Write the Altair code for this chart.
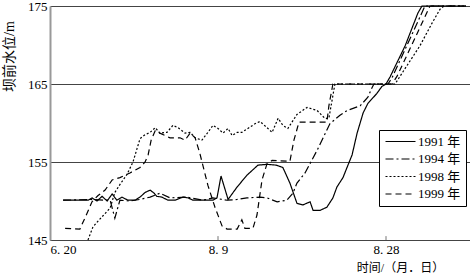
import altair as alt
import pandas as pd

FONT = "Liberation Serif, Noto Sans CJK SC"

# x: day index (6.20 = 0, 8.9 = 50, 8.28 = 100 on the printed axis)
x1991 = [3.9, 11.3, 12.5, 14.0, 15.5, 17.0, 18.5, 19.9, 21.4, 23.2, 25.3, 26.8, 28.3, 29.8, 31.0, 31.8,
         33.3, 35.1, 37.2, 39.6, 41.1, 42.6, 48.5, 49.7, 50.9, 53.0, 55.7, 58.6, 61.9, 64.6, 67.3, 69.3,
         71.4, 73.5, 75.3, 77.4, 78.3, 80.4, 82.4, 84.2, 85.4, 87.2, 88.4, 89.9, 91.4, 93.2, 94.6, 97.3,
         98.8, 100.0, 101.2, 105.7, 109.5, 110.7, 123.8]
y1991 = [150.1, 150.1, 150.4, 150.0, 150.6, 150.0, 150.9, 150.1, 150.5, 150.1, 150.1, 150.5, 151.1, 151.4, 151.0, 150.6,
         150.5, 150.1, 150.1, 150.5, 150.4, 150.1, 150.1, 150.4, 153.2, 150.2, 151.8, 153.3, 154.6, 154.7, 154.6, 154.3,
         152.3, 149.7, 149.5, 149.9, 148.8, 148.8, 149.2, 150.4, 151.8, 153.0, 154.3, 155.9, 158.7, 161.3, 162.5, 163.8,
         164.7, 165.0, 165.9, 169.9, 174.1, 175.0, 175.0]

x1994 = [3.9, 12.0, 16.4, 17.9, 19.3, 20.8, 23.8, 26.8, 29.8, 32.7, 35.7, 40.8, 45.5, 48.5, 52.7, 55.7, 58.6,
         62.5, 64.6, 67.6, 70.5, 72.3, 73.5, 75.9, 79.5, 83.3, 86.3, 88.4, 92.3, 94.6, 95.8, 96.4, 100.6,
         101.8, 111.6, 123.8]
y1994 = [150.1, 150.2, 150.1, 150.1, 147.8, 150.1, 150.0, 150.2, 150.5, 151.0, 150.4, 150.5, 150.1, 150.4, 150.1, 150.2, 150.4,
         150.5, 150.4, 149.9, 150.1, 151.0, 152.3, 153.6, 156.5, 159.9, 161.0, 161.6, 162.2, 163.3, 164.5, 165.0, 165.0,
         165.8, 175.0, 175.0]

x1998 = [11.3, 12.8, 14.9, 17.9, 19.3, 20.8, 22.9, 24.7, 26.8, 28.3, 29.8, 31.3, 32.7, 34.8, 36.6, 38.1, 40.2,
         41.7, 43.2, 45.2, 47.0, 48.5, 50.0, 51.5, 53.0, 54.2, 55.7, 57.1, 58.9, 61.0, 62.5, 64.6, 66.1, 67.9,
         69.3, 70.8, 73.5, 76.5, 79.5, 81.8, 83.0, 84.8, 102.7, 105.7, 110.1, 113.7, 116.1, 117.3, 123.8]
y1998 = [145.0, 146.7, 147.7, 149.1, 151.1, 152.1, 153.4, 155.0, 158.0, 158.5, 158.8, 159.4, 158.7, 158.8, 159.7, 159.4, 158.7,
         158.8, 158.1, 157.8, 158.8, 159.7, 159.3, 158.7, 159.3, 158.4, 158.8, 158.8, 159.3, 159.9, 160.2, 159.4, 158.8, 160.6,
         159.7, 159.3, 161.1, 162.0, 161.6, 160.6, 160.6, 165.0, 165.0, 167.0, 169.9, 172.8, 174.6, 175.0, 175.0]

x1999 = [4.5, 8.9, 11.0, 12.5, 14.3, 16.4, 18.5, 20.8, 23.8, 26.8, 28.3, 29.2, 30.1, 31.3, 32.7, 34.2, 35.7,
         38.7, 40.2, 41.7, 43.2, 44.6, 47.0, 49.1, 51.2, 52.7, 55.7, 57.1, 58.0, 60.4, 61.6, 63.1, 64.6, 66.1,
         71.4, 72.6, 74.1, 82.4, 83.0, 84.2, 101.8, 103.3, 113.1, 123.8]
y1999 = [146.5, 146.4, 148.4, 149.9, 150.7, 151.4, 152.7, 153.0, 153.6, 154.3, 155.0, 155.9, 157.8, 159.0, 158.7, 158.4, 158.1,
         158.1, 157.8, 158.7, 158.1, 156.1, 152.0, 149.2, 146.8, 146.4, 146.4, 147.6, 146.5, 146.5, 148.2, 152.7, 154.8, 155.2,
         155.1, 157.8, 160.1, 160.1, 162.2, 165.0, 165.0, 166.0, 175.0, 175.0]

series_names = ["1991 年", "1994 年", "1998 年", "1999 年"]
dash_styles = [[1, 0], [8, 3, 2, 3], [2, 2], [6, 4]]

tick_values = [0, 50, 100]
tick_labels = ["6. 20", "8. 9", "8. 28"]
y_ticks = [145, 155, 165, 175]

rows = []
for name, xs, ys in zip(series_names, [x1991, x1994, x1998, x1999], [y1991, y1994, y1998, y1999]):
    for i, (xv, yv) in enumerate(zip(xs, ys)):
        rows.append({"series": name, "x": xv, "y": yv, "order": i})
df = pd.DataFrame(rows)

label_expr = "{" + ",".join(f"'{v}':'{l}'" for v, l in zip(tick_values, tick_labels)) + "}[datum.value]"

xscale = alt.Scale(domain=[0, 125], nice=False, zero=False)
yscale = alt.Scale(domain=[145, 175], nice=False, zero=False)

lines = alt.Chart(df).mark_line(color="black", strokeWidth=1.2).encode(
    x=alt.X("x:Q", scale=xscale,
            axis=alt.Axis(values=tick_values, labelExpr=label_expr, ticks=False, grid=False,
                          domainColor="#444", domainWidth=1, labelFont=FONT, labelFontSize=13,
                          labelColor="black", labelPadding=3,
                          title="时间/（月．日）", titleFont=FONT, titleFontSize=12,
                          titleFontWeight="normal", titleColor="black",
                          titleX=350, titleY=27, titleBaseline="middle", titleAnchor="start",
                          titleAlign="center")),
    y=alt.Y("y:Q", scale=yscale,
            axis=alt.Axis(values=y_ticks, ticks=False, grid=True, gridColor="#444", gridWidth=1,
                          domainColor="#999", domainWidth=2, labelFont=FONT, labelFontSize=13,
                          labelColor="black", labelPadding=3,
                          title="坝前水位/m", titleFont=FONT, titleFontSize=14,
                          titleFontWeight="normal", titleColor="black",
                          titleX=-41, titleY=50, titleAngle=-90, titleAlign="center",
                          titleBaseline="middle")),
    strokeDash=alt.StrokeDash("series:N",
                              scale=alt.Scale(domain=series_names, range=dash_styles),
                              legend=alt.Legend(title=None, orient="none", legendX=329, legendY=124,
                                                symbolType="M-1,0H5", symbolSize=100,
                                                symbolStrokeColor="black", symbolStrokeWidth=1.2,
                                                symbolFillColor="transparent",
                                                labelFont=FONT, labelFontSize=13, labelColor="black",
                                                labelOffset=21, rowPadding=3.5, padding=5,
                                                strokeColor="black", fillColor="white")),
    order="order:Q",
)

ticks_df = pd.DataFrame({"x": tick_values[1:]})
ticks = alt.Chart(ticks_df).mark_rule(color="#777", strokeWidth=1).encode(
    x=alt.X("x:Q", scale=xscale),
    y=alt.datum(145),
    y2=alt.datum(145.5),
)

chart = alt.layer(lines, ticks).properties(
    width=420, height=234,
    autosize=alt.AutoSizeParams(type="none"),
    padding={"left": 50, "top": 6, "right": 0, "bottom": 37},
).configure_view(strokeWidth=0).configure(background="white")

chart.save("out.html", embed_options={"renderer": "svg", "actions": False})
